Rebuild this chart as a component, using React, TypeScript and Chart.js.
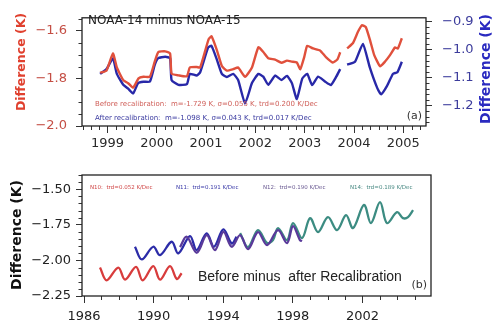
import React, { useEffect, useRef } from 'react';
import { Chart, registerables } from 'chart.js';
Chart.register(...registerables);

// ---------- Panel (a): NOAA-14 minus NOAA-15 ----------
const aBeforeYears = [1998.85, 1998.98, 1999.11, 1999.19, 1999.32, 1999.42, 1999.52, 1999.63, 1999.73, 1999.86, 1999.96, 2000.03, 2000.17, 2000.27, 2000.30, 2000.44, 2000.61, 2000.67, 2000.81, 2000.88, 2001.05, 2001.11, 2001.22, 2001.32, 2001.42, 2001.55, 2001.65, 2001.79, 2001.93, 2002.06, 2002.16, 2002.26, 2002.40, 2002.53, 2002.64, 2002.74, 2002.84, 2002.91, 2002.99, 2003.05, 2003.17, 2003.31, 2003.43, 2003.57, 2003.66, 2003.72, 2003.79, 2003.86, 2003.98, 2004.08, 2004.16, 2004.24, 2004.33, 2004.41, 2004.53, 2004.63, 2004.73, 2004.83, 2004.89, 2004.97];
const aBeforeValues = [-1.776, -1.767, -1.695, -1.754, -1.807, -1.820, -1.839, -1.800, -1.793, -1.793, -1.728, -1.689, -1.686, -1.695, -1.780, -1.787, -1.791, -1.754, -1.752, -1.754, -1.636, -1.623, -1.682, -1.748, -1.767, -1.761, -1.754, -1.793, -1.754, -1.669, -1.689, -1.715, -1.721, -1.734, -1.725, -1.729, -1.733, -1.761, -1.710, -1.663, -1.674, -1.682, -1.710, -1.733, -1.721, -1.690, null, -1.674, -1.651, -1.604, -1.576, -1.584, -1.643, -1.702, -1.749, -1.729, -1.702, -1.670, -1.674, -1.631];
const aAfterYears = [1998.85, 1998.98, 1999.11, 1999.19, 1999.32, 1999.42, 1999.52, 1999.62, 1999.73, 1999.86, 1999.96, 2000.03, 2000.17, 2000.27, 2000.30, 2000.44, 2000.61, 2000.67, 2000.81, 2000.88, 2001.04, 2001.11, 2001.22, 2001.32, 2001.42, 2001.55, 2001.65, 2001.79, 2001.93, 2002.06, 2002.16, 2002.26, 2002.40, 2002.53, 2002.64, 2002.74, 2002.84, 2002.95, 2003.05, 2003.15, 2003.27, 2003.41, 2003.53, 2003.64, 2003.72, 2003.79, 2003.86, 2004.02, 2004.18, 2004.32, 2004.47, 2004.55, 2004.67, 2004.79, 2004.88, 2004.97];
const aAfterValues = [-1.087, -1.070, -1.031, -1.087, -1.126, -1.140, -1.157, -1.120, -1.115, -1.115, -1.054, -1.031, -1.026, -1.031, -1.109, -1.126, -1.124, -1.087, -1.093, -1.081, -0.993, -0.987, -1.037, -1.087, -1.098, -1.087, -1.109, -1.193, -1.120, -1.087, -1.097, -1.126, -1.093, -1.109, -1.094, -1.120, -1.177, -1.104, -1.087, -1.127, -1.097, -1.114, -1.127, -1.097, -1.070, null, -1.054, -1.044, -0.980, -1.064, -1.137, -1.160, -1.130, -1.087, -1.081, -1.044];
const aXTicks = [1999, 2000, 2001, 2002, 2003, 2004, 2005];
const aLeftTicks = [-2.0, -1.8, -1.6];
const aRightTicks = [-1.2, -1.1, -1.0, -0.9];

// ---------- Panel (b): before minus after recalibration ----------
const bN10Years = [1986.92, 1987.30, 1987.97, 1988.36, 1988.99, 1989.37, 1989.98, 1990.37, 1990.94, 1991.33, 1991.61];
const bN10Values = [-2.05, -2.14, -2.05, -2.135, -2.045, -2.14, -2.04, -2.135, -2.04, -2.13, -2.09];
const bN11Years = [1988.93, 1989.32, 1989.98, 1990.37, 1991.04, 1991.42, 1992.09, 1992.47, 1993.05, 1993.47, 1994.01, 1994.49, 1994.77];
const bN11Values = [-1.904, -1.993, -1.904, -1.963, -1.869, -1.951, -1.829, -1.927, -1.810, -1.904, -1.782, -1.881, -1.834];
const bN12Years = [1991.52, 1991.90, 1992.48, 1993.05, 1993.53, 1994.01, 1994.49, 1994.97, 1995.43, 1996.00, 1996.52, 1997.15, 1997.67, 1998.01, 1998.41, 1998.53];
const bN12Values = [-1.906, -1.834, -1.946, -1.822, -1.927, -1.799, -1.904, -1.822, -1.920, -1.801, -1.892, -1.787, -1.878, -1.759, -1.857, -1.864];
const bN14Years = [1994.97, 1995.43, 1996.00, 1996.52, 1996.86, 1997.15, 1997.67, 1998.01, 1998.53, 1998.99, 1999.45, 2000.02, 2000.54, 2001.06, 2001.46, 2002.09, 2002.49, 2003.01, 2003.41, 2003.99, 2004.33, 2004.62, 2004.91];
const bN14Values = [-1.808, -1.906, -1.787, -1.878, -1.857, -1.773, -1.857, -1.738, -1.843, -1.703, -1.801, -1.696, -1.787, -1.682, -1.773, -1.610, -1.738, -1.590, -1.738, -1.661, -1.703, -1.696, -1.647];
const bXTicks = [1986, 1990, 1994, 1998, 2002];
const bYTicks = [-2.25, -2.0, -1.75, -1.5];

const FONT = 'DejaVu Sans';
const RED = '#e0503c';
const BLUE = '#2828a8';

const pts = (xs: number[], ys: (number | null)[]) => xs.map((x, i) => ({ x, y: ys[i] }));
const fmt = (d: number) => (v: any) => Number(v).toFixed(d).replace('-', '\u2212');
const setTicks = (arr: number[]) => (s: any) => { s.ticks = arr.map((value) => ({ value })); };
const range = (a: number, b: number, step: number) => {
  const out: number[] = [];
  for (let v = a; v <= b + 1e-9; v += step) out.push(+v.toFixed(6));
  return out;
};

type TextItem = { text: string; x: number; y: number; font: string; color: string; align?: CanvasTextAlign; rot?: boolean };
type Minor = { axis: string; side: 'bottom' | 'left' | 'right'; values: number[]; len: number };

const decor = (minors: Minor[], texts: TextItem[]) => ({
  id: 'decor',
  afterDraw(chart: any) {
    const { ctx, chartArea: ca } = chart;
    ctx.save();
    ctx.strokeStyle = '#333';
    ctx.lineWidth = 1;
    for (const m of minors) {
      const sc = chart.scales[m.axis];
      for (const v of m.values) {
        if (v < sc.min || v > sc.max) continue;
        const p = Math.round(sc.getPixelForValue(v)) + 0.5;
        ctx.beginPath();
        if (m.side === 'bottom') { ctx.moveTo(p, ca.bottom); ctx.lineTo(p, ca.bottom + m.len); }
        if (m.side === 'left') { ctx.moveTo(ca.left, p); ctx.lineTo(ca.left - m.len, p); }
        if (m.side === 'right') { ctx.moveTo(ca.right, p); ctx.lineTo(ca.right + m.len, p); }
        ctx.stroke();
      }
    }
    ctx.strokeStyle = '#222';
    ctx.lineWidth = 1.3;
    ctx.strokeRect(ca.left, ca.top, ca.right - ca.left, ca.bottom - ca.top);
    for (const t of texts) {
      ctx.font = t.font;
      ctx.fillStyle = t.color;
      ctx.textBaseline = 'middle';
      ctx.textAlign = t.align || 'left';
      if (t.rot) {
        ctx.save();
        ctx.translate(t.x, t.y);
        ctx.rotate(-Math.PI / 2);
        ctx.fillText(t.text, 0, 0);
        ctx.restore();
      } else {
        ctx.fillText(t.text, t.x, t.y);
      }
    }
    ctx.restore();
  },
});

const gridOpts = (len: number) => ({ display: true, drawOnChartArea: false, drawTicks: true, tickLength: len, tickColor: '#333', tickWidth: 1 });

function makeA(canvas: HTMLCanvasElement) {
  const minors: Minor[] = [
    { axis: 'x', side: 'bottom', values: range(1998.5, 2005.5, 1 / 6).filter((v) => Math.abs(v - Math.round(v)) > 0.01), len: 4 },
    { axis: 'y', side: 'left', values: range(-2.0, -1.55, 0.05).filter((v) => !aLeftTicks.some((t) => Math.abs(t - v) < 1e-6)), len: 3.5 },
    { axis: 'y2', side: 'right', values: range(-1.26, -0.88, 0.02).filter((v) => !aRightTicks.some((t) => Math.abs(t - v) < 1e-6)), len: 3.5 },
  ];
  const texts: TextItem[] = [
    { text: 'NOAA-14 minus NOAA-15', x: 88, y: 21, font: `12px "${FONT}"`, color: '#222' },
    { text: 'Before recalibration:  m=-1.729 K, \u03c3=0.055 K, trd=0.200 K/Dec', x: 95, y: 104, font: `7px "${FONT}"`, color: '#d0605a' },
    { text: 'After recalibration:  m=-1.098 K, \u03c3=0.043 K, trd=0.017 K/Dec', x: 95, y: 118, font: `7px "${FONT}"`, color: '#3a3aa0' },
    { text: '(a)', x: 422, y: 116, font: `11px "${FONT}"`, color: '#333', align: 'right' },
    { text: 'Difference (K)', x: 22, y: 62, font: `bold 12.5px "${FONT}"`, color: '#e0402e', align: 'center', rot: true },
    { text: 'Difference (K)', x: 486, y: 69, font: `bold 14px "${FONT}"`, color: '#2a2ac0', align: 'center', rot: true },
  ];
  return new Chart(canvas, {
    type: 'line',
    data: {
      datasets: [
        { data: pts(aBeforeYears, aBeforeValues), yAxisID: 'y', borderColor: RED, borderWidth: 2.4, pointRadius: 0, tension: 0.15, spanGaps: false },
        { data: pts(aAfterYears, aAfterValues), yAxisID: 'y2', borderColor: BLUE, borderWidth: 2.4, pointRadius: 0, tension: 0.15, spanGaps: false },
      ],
    } as any,
    options: {
      responsive: false,
      animation: false,
      devicePixelRatio: 1,
      layout: { padding: { top: 10, left: 0, right: 0, bottom: 0 } },
      plugins: { legend: { display: false }, tooltip: { enabled: false } },
      scales: {
        x: {
          type: 'linear', min: 1998.483, max: 2005.46,
          afterBuildTicks: setTicks(aXTicks),
          afterFit: (s: any) => { s.height = 34; },
          ticks: { autoSkip: false, maxRotation: 0, padding: 3, color: '#2a2a2a', font: { family: FONT, size: 13 }, callback: (v: any) => String(v) },
          grid: gridOpts(7), border: { display: false },
        },
        y: {
          type: 'linear', position: 'left', min: -2.0, max: -1.545,
          afterBuildTicks: setTicks(aLeftTicks),
          afterFit: (s: any) => { s.width = 82; },
          ticks: { autoSkip: false, padding: 9, color: '#c44e44', font: { family: FONT, size: 13 }, callback: fmt(1) },
          grid: gridOpts(6), border: { display: false },
        },
        y2: {
          type: 'linear', position: 'right', min: -1.273, max: -0.887,
          afterBuildTicks: setTicks(aRightTicks),
          afterFit: (s: any) => { s.width = 66; },
          ticks: { autoSkip: false, padding: 10, color: '#3c3c9c', font: { family: FONT, size: 13 }, callback: fmt(1) },
          grid: gridOpts(6), border: { display: false },
        },
      },
    } as any,
    plugins: [decor(minors, texts)],
  });
}

function makeB(canvas: HTMLCanvasElement) {
  const minors: Minor[] = [
    { axis: 'x', side: 'bottom', values: range(1986, 2005, 1).filter((v) => !bXTicks.includes(v)), len: 4 },
    { axis: 'y', side: 'left', values: range(-2.25, -1.4, 0.05).filter((v) => !bYTicks.some((t) => Math.abs(t - v) < 1e-6)), len: 3.5 },
  ];
  const texts: TextItem[] = [
    { text: 'N10:  trd=0.052 K/Dec', x: 90, y: 28, font: `5.5px "${FONT}"`, color: '#d04848' },
    { text: 'N11:  trd=0.191 K/Dec', x: 176, y: 28, font: `5.5px "${FONT}"`, color: '#3a3aa8' },
    { text: 'N12:  trd=0.190 K/Dec', x: 263, y: 28, font: `5.5px "${FONT}"`, color: '#6a5a92' },
    { text: 'N14:  trd=0.189 K/Dec', x: 350, y: 28, font: `5.5px "${FONT}"`, color: '#4a8a84' },
    { text: 'Before minus  after Recalibration', x: 198, y: 117, font: '14px "Liberation Sans"', color: '#222' },
    { text: '(b)', x: 427, y: 125, font: `11px "${FONT}"`, color: '#333', align: 'right' },
    { text: 'Difference (K)', x: 17, y: 75, font: `bold 14px "${FONT}"`, color: '#111', align: 'center', rot: true },
  ];
  const ds = (xs: number[], ys: number[], color: string) => ({ data: pts(xs, ys), borderColor: color, borderWidth: 2.3, pointRadius: 0, tension: 0.35 });
  return new Chart(canvas, {
    type: 'line',
    data: {
      datasets: [
        ds(bN10Years, bN10Values, '#d83c3c'),
        ds(bN12Years, bN12Values, '#5a3a9a'),
        ds(bN11Years, bN11Values, '#2c2ca8'),
        ds(bN14Years, bN14Values, '#3c8c82'),
      ],
    } as any,
    options: {
      responsive: false,
      animation: false,
      devicePixelRatio: 1,
      layout: { padding: { top: 15, left: 0, right: 61, bottom: 0 } },
      plugins: { legend: { display: false }, tooltip: { enabled: false } },
      scales: {
        x: {
          type: 'linear', min: 1985.885, max: 2005.94,
          afterBuildTicks: setTicks(bXTicks),
          afterFit: (s: any) => { s.height = 28; },
          ticks: { autoSkip: false, maxRotation: 0, padding: 6, color: '#222', font: { family: FONT, size: 13 }, callback: (v: any) => String(v) },
          grid: gridOpts(7), border: { display: false },
        },
        y: {
          type: 'linear', position: 'left', min: -2.25, max: -1.40,
          afterBuildTicks: setTicks(bYTicks),
          afterFit: (s: any) => { s.width = 82; },
          ticks: { autoSkip: false, padding: 5, color: '#222', font: { family: FONT, size: 13 }, callback: fmt(2) },
          grid: gridOpts(6), border: { display: false },
        },
      },
    } as any,
    plugins: [decor(minors, texts)],
  });
}

export default function App() {
  const refA = useRef<HTMLCanvasElement>(null);
  const refB = useRef<HTMLCanvasElement>(null);
  useEffect(() => {
    const a = makeA(refA.current!);
    const b = makeB(refB.current!);
    return () => { a.destroy(); b.destroy(); };
  }, []);
  return (
    <div style={{ position: 'fixed', left: 0, top: 0, width: 492, height: 324, background: '#fff' }}>
      <canvas ref={refA} width={492} height={160} style={{ position: 'absolute', left: 0, top: 0, width: 492, height: 160 }} />
      <canvas ref={refB} width={492} height={164} style={{ position: 'absolute', left: 0, top: 160, width: 492, height: 164 }} />
    </div>
  );
}
